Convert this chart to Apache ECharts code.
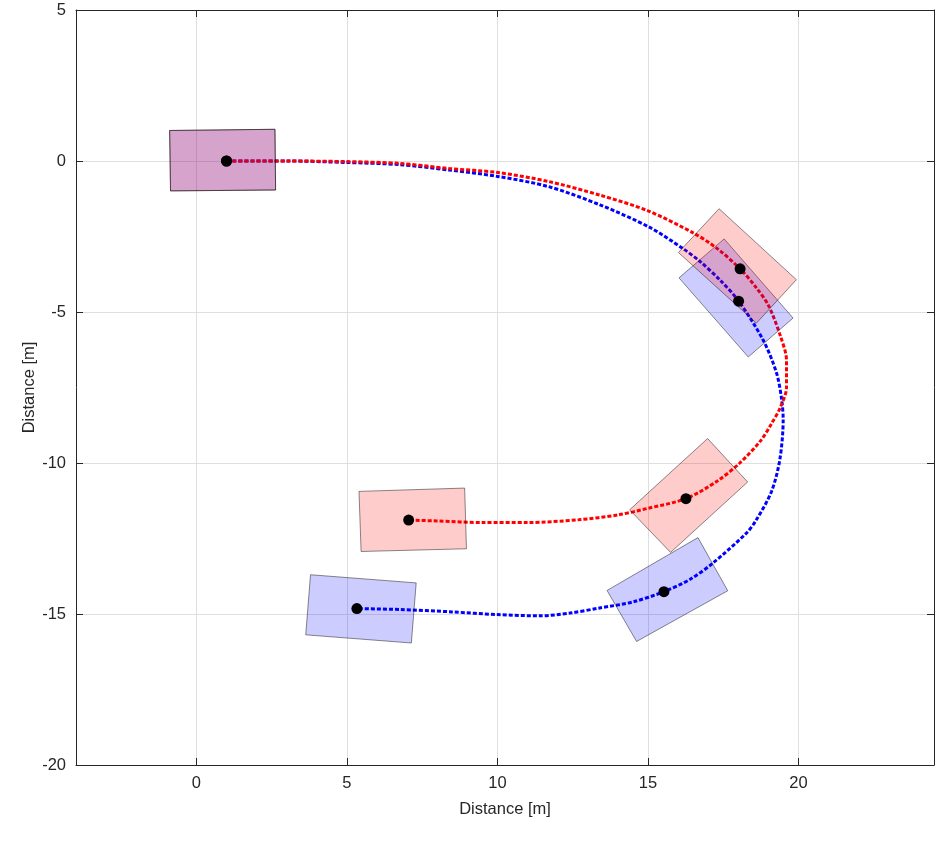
<!DOCTYPE html>
<html>
<head>
<meta charset="utf-8">
<script src="https://cdn.jsdelivr.net/npm/echarts@6/dist/echarts.min.js"></script>
<style>
  html, body { margin: 0; padding: 0; background: #fff; }
  #main { width: 945px; height: 843px; }
</style>
</head>
<body>
<div id="main"></div>
<script>
(function(){
	// tick positions
	var xTicks = [0, 5, 10, 15, 20];
	var yTicks = [-20, -15, -10, -5, 0, 5];

	// paths [x, y] in metres
	var redPath = [
		[1.0, 0.0], [3.0, 0.0], [5.0, -0.02], [6.75, -0.08], [8.4, -0.25], [10.0, -0.38],
		[11.7, -0.68], [13.4, -1.13], [15.0, -1.65], [16.5, -2.38], [17.3, -2.9], [18.06, -3.57],
		[18.6, -4.2], [19.0, -4.78], [19.4, -5.8], [19.6, -6.6], [19.6, -7.5], [19.4, -8.15],
		[19.1, -8.7], [18.75, -9.25], [18.05, -10.0], [17.3, -10.6], [16.26, -11.18], [15.0, -11.5],
		[14.0, -11.72], [12.7, -11.88], [11.0, -11.97], [9.5, -11.97], [8.0, -11.92], [7.05, -11.89]
	];
	var bluePath = [
		[1.0, 0.0], [3.0, 0.0], [5.0, -0.05], [6.75, -0.12], [8.4, -0.3], [10.0, -0.51],
		[11.7, -0.85], [13.4, -1.45], [15.06, -2.2], [16.16, -2.9], [16.72, -3.32], [17.4, -3.95],
		[18.01, -4.64], [18.82, -5.92], [19.27, -7.02], [19.44, -7.9], [19.49, -8.57], [19.38, -9.88],
		[19.1, -10.95], [18.6, -11.88], [18.27, -12.32], [17.16, -13.31], [16.4, -13.85], [15.53, -14.26],
		[14.5, -14.6], [13.4, -14.8], [12.4, -14.97], [11.4, -15.06], [10.0, -15.02], [8.5, -14.93],
		[6.75, -14.85], [5.33, -14.82]
	];

	// vehicle outlines: four corners x1,y1 ... x4,y4
	var redBoxes = [
		[-0.89, 1.01, 2.61, 1.05, 2.63, -0.96, -0.86, -0.99],
		[16.01, -3.03, 17.36, -1.58, 19.93, -3.93, 18.60, -5.37],
		[14.39, -11.55, 16.98, -9.19, 18.31, -10.63, 15.75, -12.96],
		[5.40, -10.94, 8.91, -10.83, 8.97, -12.84, 5.47, -12.93]
	];
	var blueBoxes = [
		[-0.89, 1.01, 2.61, 1.05, 2.63, -0.96, -0.86, -0.99],
		[16.03, -3.87, 17.53, -2.58, 19.82, -5.20, 18.33, -6.49],
		[13.64, -14.22, 16.66, -12.47, 17.65, -14.23, 14.62, -15.91],
		[3.79, -13.70, 7.30, -13.97, 7.14, -15.96, 3.63, -15.69]
	];

	// reference points
	var redDots = [[1.0, 0.0], [18.06, -3.57], [16.26, -11.18], [7.05, -11.89]];
	var blueDots = [[1.0, 0.0], [18.01, -4.64], [15.53, -14.26], [5.33, -14.82]];

	var font = '"Liberation Sans", Arial, Helvetica, sans-serif';

	function boxItem(fill) {
		return function (params, api) {
			var pts = [];
			for (var k = 0; k < 4; k++) {
				pts.push(api.coord([api.value(2 * k), api.value(2 * k + 1)]));
			}
			return {
				type: 'polygon',
				shape: { points: pts },
				style: { fill: fill, stroke: 'rgba(0,0,0,0.45)', lineWidth: 1 }
			};
		};
	}

	function xAxisOf(pos, showLabels) {
		return {
			type: 'value', position: pos, min: -4, max: 24.5,
			name: showLabels ? 'Distance [m]' : '',
			nameLocation: 'middle', nameGap: 36, nameMoveOverlap: false,
			nameTextStyle: { fontFamily: font, fontSize: 16.5, color: '#262626' },
			axisLine: { show: true, onZero: false, lineStyle: { color: '#262626', width: 1 } },
			axisTick: { show: true, inside: true, length: 7, customValues: xTicks, lineStyle: { color: '#262626' } },
			axisLabel: { show: showLabels, customValues: xTicks, margin: 10, fontFamily: font, fontSize: 16.5, color: '#262626' },
			splitLine: { show: showLabels, lineStyle: { color: '#dfdfdf', width: 1 } }
		};
	}
	function yAxisOf(pos, showLabels) {
		return {
			type: 'value', position: pos, min: yTicks[0], max: yTicks[yTicks.length - 1], interval: 5,
			name: showLabels ? 'Distance [m]' : '',
			nameLocation: 'middle', nameGap: 38, nameMoveOverlap: false,
			nameTextStyle: { fontFamily: font, fontSize: 16.5, color: '#262626' },
			axisLine: { show: true, onZero: false, lineStyle: { color: '#262626', width: 1 } },
			axisTick: { show: true, inside: true, length: 7, lineStyle: { color: '#262626' } },
			axisLabel: { show: showLabels, margin: 10, fontFamily: font, fontSize: 16.5, color: '#262626' },
			splitLine: { show: showLabels, lineStyle: { color: '#dfdfdf', width: 1 } }
		};
	}

	echarts.init(document.getElementById('main')).setOption({
		animation: false,
		backgroundColor: '#fff',
		grid: { left: 76, top: 10, width: 858, height: 755 },
		xAxis: [xAxisOf('bottom', true), xAxisOf('top', false)],
		yAxis: [yAxisOf('left', true), yAxisOf('right', false)],
		series: [
			{
				name: 'blue path', type: 'line', data: bluePath, smooth: 0.3,
				showSymbol: false, z: 2,
				lineStyle: { color: '#0000ff', width: 3, type: [4, 2] }
			},
			{
				name: 'red path', type: 'line', data: redPath, smooth: 0.3,
				showSymbol: false, z: 2,
				lineStyle: { color: '#ff0000', width: 3, type: [4, 2] }
			},
			{
				name: 'blue boxes', type: 'custom', data: blueBoxes, z: 3,
				renderItem: boxItem('rgba(0,0,255,0.2)'),
				encode: { x: [0, 2, 4, 6], y: [1, 3, 5, 7] }
			},
			{
				name: 'red boxes', type: 'custom', data: redBoxes, z: 3,
				renderItem: boxItem('rgba(255,0,0,0.2)'),
				encode: { x: [0, 2, 4, 6], y: [1, 3, 5, 7] }
			},
			{
				name: 'blue dots', type: 'scatter', data: blueDots, z: 5,
				symbolSize: 11, itemStyle: { color: '#000', opacity: 1 }
			},
			{
				name: 'red dots', type: 'scatter', data: redDots, z: 5,
				symbolSize: 11, itemStyle: { color: '#000', opacity: 1 }
			}
		]
	});
})();
</script>
</body>
</html>
